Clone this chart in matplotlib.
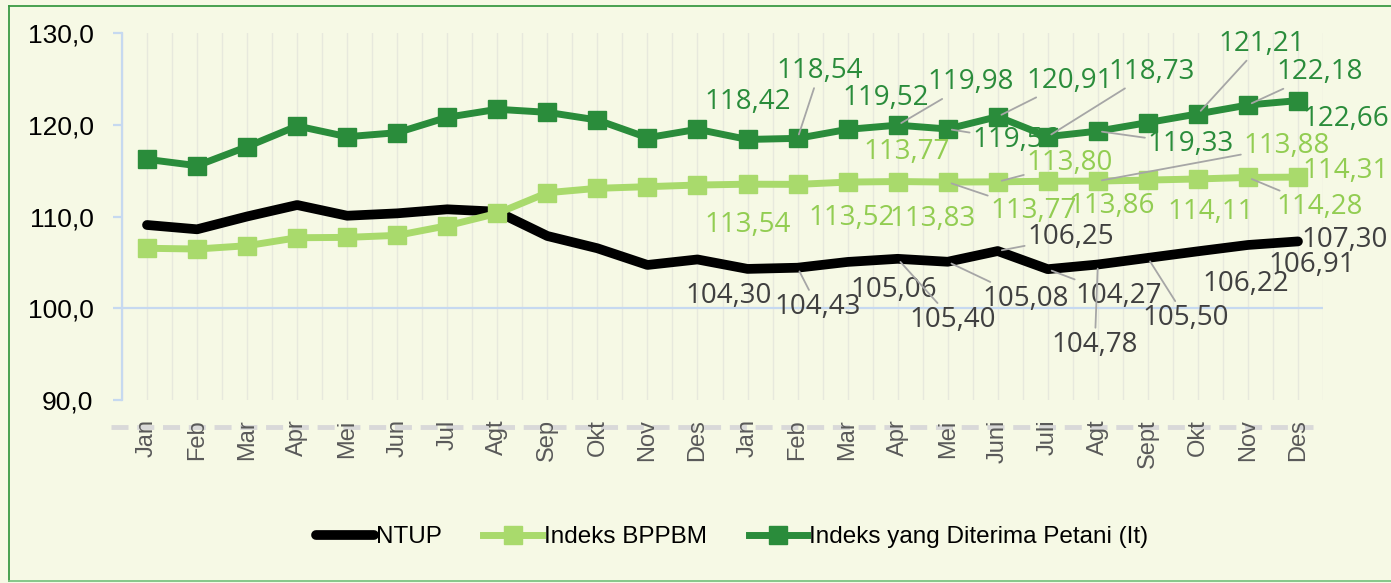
import matplotlib
matplotlib.use('Agg')
import matplotlib.pyplot as plt
from matplotlib.lines import Line2D

# ---------------- data ----------------
months = ['Jan', 'Feb', 'Mar', 'Apr', 'Mei', 'Jun', 'Jul', 'Agt', 'Sep', 'Okt', 'Nov', 'Des',
          'Jan', 'Feb', 'Mar', 'Apr', 'Mei', 'Juni', 'Juli', 'Agt', 'Sept', 'Okt', 'Nov', 'Des']
ntup = [109.09, 108.62, 110.02, 111.27, 110.10, 110.36, 110.80, 110.54, 107.89, 106.55, 104.73, 105.33,
        104.30, 104.43, 105.06, 105.40, 105.08, 106.25, 104.27, 104.78, 105.50, 106.22, 106.91, 107.30]
bppbm = [106.55, 106.47, 106.83, 107.70, 107.74, 107.96, 109.01, 110.36, 112.61, 113.09, 113.27, 113.45,
         113.54, 113.52, 113.77, 113.83, 113.77, 113.80, 113.86, 113.88, 113.99, 114.11, 114.28, 114.31]
it = [116.25, 115.56, 117.63, 119.89, 118.72, 119.16, 120.84, 121.71, 121.38, 120.54, 118.61, 119.53,
      118.42, 118.54, 119.52, 119.98, 119.56, 120.91, 118.73, 119.33, 120.26, 121.21, 122.18, 122.66]
series_names = ['NTUP', 'Indeks BPPBM', 'Indeks yang Diterima Petani (It)']
yticks = [90, 100, 110, 120, 130]

# label placement (pixel offsets from point, leader flag) for labelled points
it_lab = {12: (0, 37, False), 13: (22, 67, True), 14: (38, 31, False), 15: (73, 43, True),
          16: (68, -11, True), 17: (72, 36, True), 18: (104, 65, True), 19: (93, -13, True),
          21: (64, 70, True), 22: (72, 33, True), 23: (48, -18, False)}
bp_lab = {12: (0, -41, False), 13: (54, -34, False), 14: (59, 30, False), 15: (35, -37, False),
          16: (86, -29, True), 17: (72, 19, True), 18: (64, -25, False), 19: (189, 35, True),
          21: (13, -33, False), 22: (72, -30, True), 23: (48, 6, False)}
nt_lab = {12: (-19, -27, False), 13: (20, -39, True), 14: (46, -28, False), 15: (55, -61, True),
          16: (78, -37, True), 17: (73, 14, True), 18: (71, -27, True), 19: (-3, -80, True),
          20: (38, -60, True), 21: (48, -33, False), 22: (64, -20, False), 23: (47, 1, False)}

# ---------------- style ----------------
BG = '#F6F9E5'
C_BLACK = '#000000'
C_LIGHT = '#A9DA6C'
C_DARK = '#2A8C3B'
T_LIGHT = '#92CD52'
T_DARK = '#2A8C3B'
T_GREY = '#404040'
AXBLUE = '#C6D9F0'
SANS = ['Liberation Sans', 'DejaVu Sans']
LABFONT = ['Open Sans', 'DejaVu Sans']

W, H = 1391, 583
fig = plt.figure(figsize=(W / 100, H / 100), dpi=100, facecolor=BG)
ax = fig.add_axes([122 / W, 1 - 400 / H, (1323 - 122) / W, (400 - 33.3) / H])
ax.set_facecolor(BG)

x = list(range(len(months)))
ax.set_xlim(-0.5, len(months) - 0.5)
ax.set_ylim(90, 130)

# vertical faint gridlines at every half category
for k in range(2 * len(months) + 1):
    ax.axvline(-0.5 + 0.5 * k, color='#E7E9DD', lw=1.0, zorder=0)
ax.axhline(100, color=AXBLUE, lw=1.6, zorder=1)

ax.plot(x, ntup, color=C_BLACK, lw=7, solid_joinstyle='round', solid_capstyle='round',
        zorder=3, label=series_names[0])
ax.plot(x, bppbm, color=C_LIGHT, lw=5, marker='s', ms=12.5, mec=C_LIGHT, mfc=C_LIGHT,
        solid_joinstyle='round', zorder=4, label=series_names[1])
ax.plot(x, it, color=C_DARK, lw=5, marker='s', ms=12.5, mec=C_DARK, mfc=C_DARK,
        solid_joinstyle='round', zorder=5, label=series_names[2])

# spines / ticks
for s in ['top', 'right', 'bottom']:
    ax.spines[s].set_visible(False)
ax.spines['left'].set_color(AXBLUE)
ax.spines['left'].set_linewidth(1.6)
ax.set_yticks(yticks)
ax.set_yticklabels([f"{v:.1f}".replace('.', ',') for v in yticks],
                   fontfamily=SANS, fontsize=19, color='black')
ax.tick_params(axis='y', direction='out', length=6.5, width=1.6, color=AXBLUE, pad=14)
ax.set_xticks(x)
ax.set_xticklabels(months, rotation=90, fontfamily=SANS,
                   fontsize=17, color='#595959', va='top', ha='center')
ax.tick_params(axis='x', length=0, pad=14)

# dashed horizontal axis line below plot
ax.add_line(Line2D([(111 - 122) / 1201, (1313 - 122) / 1201], [-27 / 367, -27 / 367],
                   transform=ax.transAxes, clip_on=False, color='#D9D9D9', lw=3.5,
                   linestyle=(0, (3.5, 1.8)), zorder=0.5))


def fmt(v):
    return f"{v:.2f}".replace('.', ',')


def add_labels(vals, spec, color):
    for i, (dx, dy, leader) in spec.items():
        kw = {}
        if leader:
            kw['arrowprops'] = dict(arrowstyle='-', color='#A6A6A6', lw=1.3,
                                    shrinkA=0, shrinkB=3)
        ax.annotate(fmt(vals[i]), xy=(x[i], vals[i]), xytext=(dx, dy),
                    textcoords='offset pixels', ha='center', va='center',
                    fontsize=20, fontfamily=LABFONT, color=color, zorder=10,
                    annotation_clip=False, **kw)


add_labels(it, it_lab, T_DARK)
add_labels(bppbm, bp_lab, T_LIGHT)
add_labels(ntup, nt_lab, T_GREY)

# legend
handles = [
    Line2D([], [], color=C_BLACK, lw=7, solid_capstyle='round'),
    Line2D([], [], color=C_LIGHT, lw=5, marker='s', ms=12.5, mec=C_LIGHT, mfc=C_LIGHT),
    Line2D([], [], color=C_DARK, lw=5, marker='s', ms=12.5, mec=C_DARK, mfc=C_DARK),
]
fig.legend(handles, series_names, loc='center', bbox_to_anchor=(732 / W, 1 - 537 / H),
           ncol=3, frameon=False, prop={'family': SANS, 'size': 17.5},
           handlelength=2.4, handletextpad=0.1, columnspacing=1.7)

# chart border
fig.add_artist(Line2D([9 / W, 9 / W], [1 - 6 / H, 1 - 581 / H], transform=fig.transFigure,
                      color='#3A9A45', lw=1.3))
fig.add_artist(Line2D([9 / W, 1], [1 - 6 / H, 1 - 6 / H], transform=fig.transFigure,
                      color='#3A9A45', lw=1.3))
fig.add_artist(Line2D([9 / W, 1], [1 - 581 / H, 1 - 581 / H], transform=fig.transFigure,
                      color='#7DC383', lw=1.3))

fig.savefig('out.png', dpi=100, facecolor=BG)
